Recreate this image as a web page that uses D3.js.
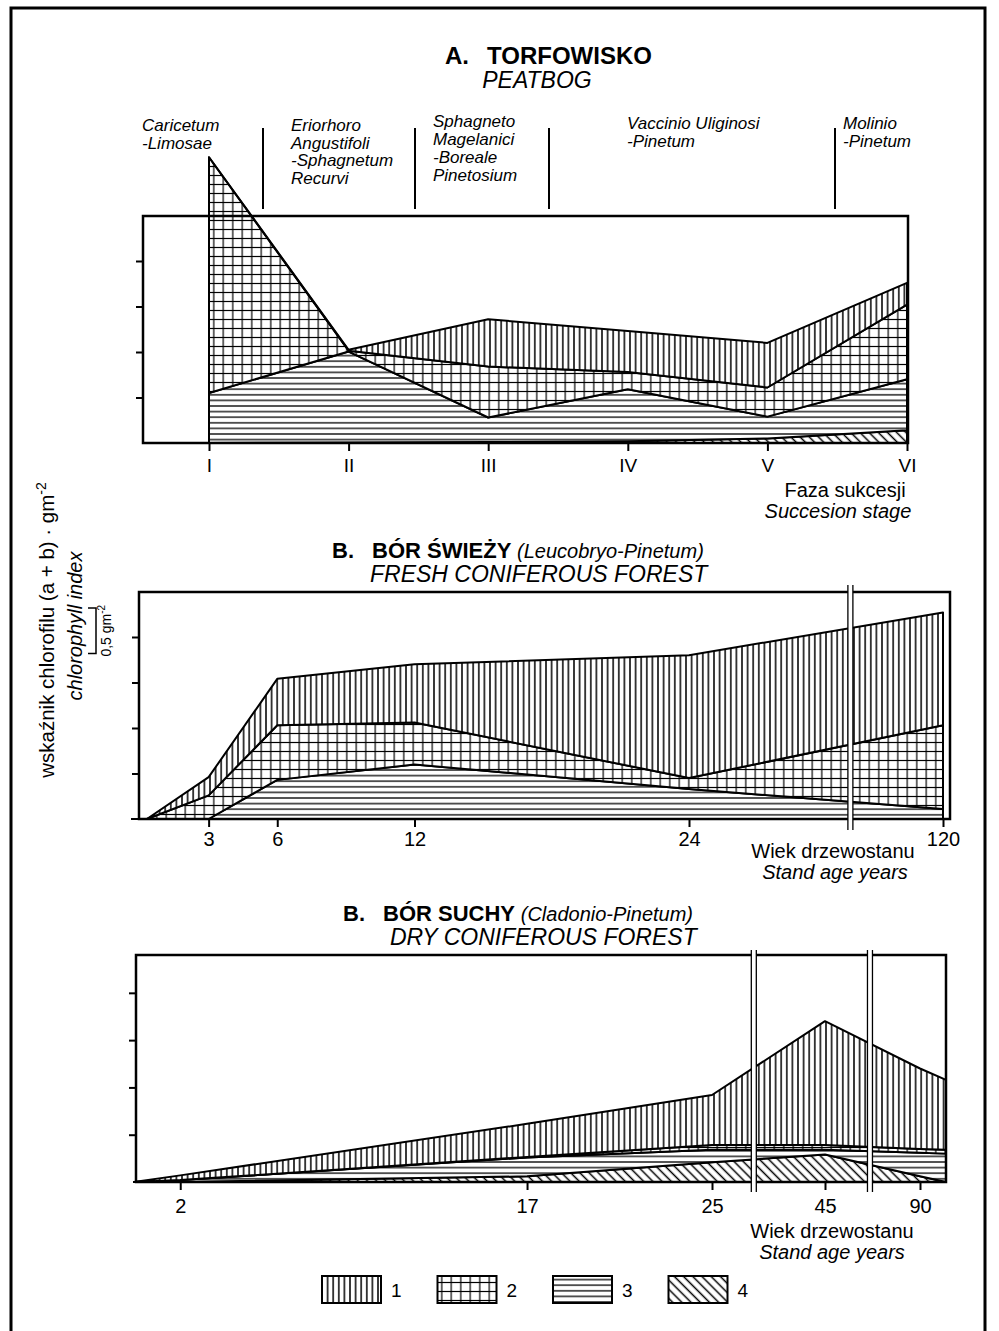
<!DOCTYPE html>
<html><head><meta charset="utf-8">
<script src="https://cdn.jsdelivr.net/npm/d3@7"></script>
<style>
body{margin:0;background:#fff}
svg text{font-family:"Liberation Sans",Arial,sans-serif;fill:#000}
</style>
</head><body>
<svg id="chart" width="999" height="1331"></svg>
<script>
// ---------------- DATA ----------------
// Panel A – peatbog, succession stages
const stagesA = ["I","II","III","IV","V","VI"];
const peat1 = [0, 0.01, 0.52, 0.45, 0.49, 0.24];
const peat2 = [2.59, 0.01, 0.56, 0.19, 0.32, 0.82];
const peat3 = [0.55, 1.0, 0.27, 0.57, 0.24, 0.56];
const peat4 = [0, 0.005, 0.01, 0.02, 0.05, 0.14];

// Panel B – fresh coniferous forest (stand age, years)
const freshAges = [0.3, 3, 6, 12, 24, 120];
const freshTicks = [3, 6, 12, 24, 120];
const fresh1 = [0, 0.20, 0.51, 0.64, 1.35, 1.24];
const fresh2 = [0, 0.26, 0.60, 0.46, 0.12, 0.92];
const fresh3 = [0, 0, 0.43, 0.60, 0.33, 0.11];
const fresh4 = [0, 0, 0, 0, 0, 0];
const freshBreaks = [85];

// Panel C – dry coniferous forest (stand age, years)
const dryAges = [0, 2, 17, 25, 45, 90, 100];
const dryTicks = [2, 17, 25, 45, 90];
const dry1 = [0, 0.05, 0.35, 0.53, 1.31, 0.85, 0.74];
const dry2 = [0, 0, 0.005, 0.05, 0.05, 0.04, 0.04];
const dry3 = [0, 0.02, 0.20, 0.13, 0.05, 0.25, 0.30];
const dry4 = [0, 0, 0.06, 0.21, 0.29, 0.06, 0];
const dryBreaks = [32.4, 66.3];

const yTicks = [0.5, 1, 1.5, 2];
const legendLabels = ["1", "2", "3", "4"];
const associations = [
  ["Caricetum", "-Limosae"],
  ["Eriorhoro", "Angustifoli", "-Sphagnetum", "Recurvi"],
  ["Sphagneto", "Magelanici", "-Boreale", "Pinetosium"],
  ["Vaccinio Uliginosi", "-Pinetum"],
  ["Molinio", "-Pinetum"]
];

// ---------------- LAYOUT ----------------
const assocLayout = [
  {x:142, y:131, lh:17.5}, {x:291, y:131, lh:17.5}, {x:433, y:127, lh:18},
  {x:627, y:129, lh:17.5}, {x:843, y:129, lh:17.5}
];
const dividerX = [263, 415, 549, 835];

const svg = d3.select("#chart");
svg.append("rect").attr("width",999).attr("height",1331).attr("fill","#fff");

// patterns
const defs = svg.append("defs");
function pat(id, w, h, draw, transform){
  const p = defs.append("pattern").attr("id",id).attr("patternUnits","userSpaceOnUse")
    .attr("width",w).attr("height",h);
  if (transform) p.attr("patternTransform", transform);
  p.append("rect").attr("width",w).attr("height",h).attr("fill","#fff");
  draw(p);
}
pat("p1", 5.6, 10, p => p.append("line").attr("x1",2.8).attr("x2",2.8).attr("y1",0).attr("y2",10).attr("stroke","#000").attr("stroke-width",1.5));
pat("p2", 9.5, 9, p => {
  p.append("line").attr("x1",4.75).attr("x2",4.75).attr("y1",0).attr("y2",9).attr("stroke","#000").attr("stroke-width",1.2);
  p.append("line").attr("x1",0).attr("x2",9.5).attr("y1",4.5).attr("y2",4.5).attr("stroke","#000").attr("stroke-width",1.2);
});
pat("p3", 10, 5.6, p => p.append("line").attr("x1",0).attr("x2",10).attr("y1",2.8).attr("y2",2.8).attr("stroke","#000").attr("stroke-width",1.3));
pat("p4", 6.5, 10, p => p.append("line").attr("x1",3.25).attr("x2",3.25).attr("y1",0).attr("y2",10).attr("stroke","#000").attr("stroke-width",1.5), "rotate(-45)");

const keys = ["l4","l3","l2","l1"];
const patOf = {l1:"url(#p1)", l2:"url(#p2)", l3:"url(#p3)", l4:"url(#p4)"};

function rows(xs, a1, a2, a3, a4){
  return xs.map((x,i)=>({x, l1:a1[i], l2:a2[i], l3:a3[i], l4:a4[i]}));
}

function drawLayers(g, data, x, y){
  const series = d3.stack().keys(keys)(data);
  const area = d3.area().x(d=>x(d.data.x)).y0(d=>y(d[0])).y1(d=>y(d[1]));
  g.selectAll("path.layer").data(series).join("path").attr("class","layer")
    .attr("d", area).attr("fill", s=>patOf[s.key])
    .attr("stroke","#000").attr("stroke-width",2).attr("stroke-linejoin","round");
}

function drawBox(g, x0, x1, yTop, yBot){
  g.append("rect").attr("x",x0).attr("y",yTop).attr("width",x1-x0).attr("height",yBot-yTop)
    .attr("fill","none").attr("stroke","#000").attr("stroke-width",2.5);
}

function yAxis(g, x0, y){
  const ax = g.append("g").attr("transform",`translate(${x0},0)`)
    .call(d3.axisLeft(y).tickValues(yTicks).tickSize(7).tickFormat(""));
  ax.select(".domain").remove();
  ax.selectAll("line").attr("stroke-width",2);
}

function xAxis(g, yBase, x, ticks, pad, fs){
  const ax = g.append("g").attr("transform",`translate(0,${yBase})`)
    .call(d3.axisBottom(x).tickValues(ticks).tickSize(8).tickPadding(pad));
  ax.select(".domain").remove();
  ax.selectAll("line").attr("stroke-width",2);
  ax.selectAll("text").attr("font-size",fs).attr("font-family",null);
}

function breakLine(g, xp, y1, y2){
  g.append("rect").attr("x",xp-2.5).attr("y",y1).attr("width",5).attr("height",y2-y1).attr("fill","#fff");
  [xp-2.5, xp+2.5].forEach(v=>g.append("line").attr("x1",v).attr("x2",v).attr("y1",y1).attr("y2",y2)
    .attr("stroke","#000").attr("stroke-width",1.3));
}

function label(g, x, y, str, o={}){
  const t = g.append("text").attr("x",x).attr("y",y).text(str)
    .attr("font-size",o.fs||20);
  if (o.italic) t.attr("font-style","italic");
  if (o.bold) t.attr("font-weight","bold");
  if (o.anchor) t.attr("text-anchor",o.anchor);
  return t;
}

// outer border
svg.append("path").attr("d","M11,1331V8H985V1331").attr("fill","none").attr("stroke","#000").attr("stroke-width",3);

// ---------------- PANEL A ----------------
const gA = svg.append("g");
const xA = d3.scalePoint().domain(stagesA).range([209, 907]);
const yA = d3.scaleLinear().domain([0, 2.5]).range([443, 215.5]);
{
  label(gA, 445, 64, "A.", {fs:24, bold:true});
  label(gA, 487, 64, "TORFOWISKO", {fs:24, bold:true});
  label(gA, 537, 88, "PEATBOG", {fs:23, italic:true, anchor:"middle"});
  associations.forEach((lines,i)=>{
    const L = assocLayout[i];
    lines.forEach((s,j)=>label(gA, L.x, L.y + j*L.lh, s, {fs:17, italic:true}));
  });
  dividerX.forEach(v=>gA.append("line").attr("x1",v).attr("x2",v).attr("y1",128).attr("y2",209)
    .attr("stroke","#000").attr("stroke-width",2));
  drawLayers(gA, rows(stagesA, peat1, peat2, peat3, peat4), xA, yA);
  drawBox(gA, 143, 908, 216, 443);
  yAxis(gA, 143, yA);
  xAxis(gA, 443, xA, stagesA, 8, 19);
  label(gA, 845, 497, "Faza sukcesji", {fs:20, anchor:"middle"});
  label(gA, 838, 518, "Succesion stage", {fs:20, italic:true, anchor:"middle"});
}

// ---------------- PANEL B ----------------
const gB = svg.append("g");
const xB = d3.scaleLinear().domain([0, 24, 120]).range([140, 689, 943]);
const yB = d3.scaleLinear().domain([0, 2.5]).range([819, 591.5]);
{
  label(gB, 332, 558, "B.", {fs:22, bold:true});
  const t = gB.append("text").attr("x",372).attr("y",558).attr("font-size",22);
  t.append("tspan").attr("font-weight","bold").text("BÓR ŚWIEŻY ");
  t.append("tspan").attr("font-style","italic").attr("font-size",20).text("(Leucobryo-Pinetum)");
  label(gB, 370, 582, "FRESH CONIFEROUS FOREST", {fs:23, italic:true});
  drawLayers(gB, rows(freshAges, fresh1, fresh2, fresh3, fresh4), xB, yB);
  drawBox(gB, 139, 950, 592, 819);
  gB.append("line").attr("x1",131).attr("x2",139).attr("y1",819).attr("y2",819).attr("stroke","#000").attr("stroke-width",2);
  yAxis(gB, 139, yB);
  xAxis(gB, 819, xB, freshTicks, 5, 20);
  freshBreaks.forEach(a=>breakLine(gB, xB(a), 585, 830));
  label(gB, 833, 858, "Wiek drzewostanu", {fs:20, anchor:"middle"});
  label(gB, 835, 879, "Stand age years", {fs:20, italic:true, anchor:"middle"});
}

// ---------------- PANEL C ----------------
const gC = svg.append("g");
const xC = d3.scaleLinear().domain([0, 25, 45, 90, 100]).range([134, 712, 825, 920, 946]);
const yC = d3.scaleLinear().domain([0, 2.4]).range([1182, 955]);
{
  label(gC, 343, 921, "B.", {fs:22, bold:true});
  const t = gC.append("text").attr("x",383).attr("y",921).attr("font-size",22);
  t.append("tspan").attr("font-weight","bold").text("BÓR SUCHY ");
  t.append("tspan").attr("font-style","italic").attr("font-size",20).text("(Cladonio-Pinetum)");
  label(gC, 390, 945, "DRY CONIFEROUS FOREST", {fs:23, italic:true});
  drawLayers(gC, rows(dryAges, dry1, dry2, dry3, dry4), xC, yC);
  drawBox(gC, 136, 946, 955, 1182);
  yAxis(gC, 136, yC);
  xAxis(gC, 1182, xC, dryTicks, 9, 20);
  dryBreaks.forEach(a=>breakLine(gC, xC(a), 950, 1192));
  label(gC, 832, 1238, "Wiek drzewostanu", {fs:20, anchor:"middle"});
  label(gC, 832, 1259, "Stand age years", {fs:20, italic:true, anchor:"middle"});
}

// ---------------- Y LABEL & SCALE BAR ----------------
{
  const g1 = svg.append("g").attr("transform","translate(54,630) rotate(-90)");
  const t = g1.append("text").attr("text-anchor","middle").attr("font-size",20.5);
  t.append("tspan").text("wskaźnik chlorofilu (a + b) · gm");
  t.append("tspan").attr("font-size",14).attr("dy",-8).text("-2");
  svg.append("g").attr("transform","translate(82,626) rotate(-90)")
    .append("text").attr("text-anchor","middle").attr("font-size",20).attr("font-style","italic")
    .text("chlorophyll index");
  const h = yB(0) - yB(0.5);
  svg.append("path").attr("d",`M88,608H96V${608+h}H88`).attr("fill","none").attr("stroke","#000").attr("stroke-width",1.5);
  const g3 = svg.append("g").attr("transform",`translate(111,${608+h/2}) rotate(-90)`);
  const t3 = g3.append("text").attr("text-anchor","middle").attr("font-size",14);
  t3.append("tspan").text("0,5 gm");
  t3.append("tspan").attr("font-size",10).attr("dy",-6).text("-2");
}

// ---------------- LEGEND ----------------
{
  const g = svg.append("g");
  legendLabels.forEach((s,i)=>{
    const x0 = 322 + i*115.5;
    g.append("rect").attr("x",x0).attr("y",1276).attr("width",59).attr("height",27)
      .attr("fill",patOf[keys[3-i]]).attr("stroke","#000").attr("stroke-width",2);
    label(g, x0+69, 1297, s, {fs:19});
  });
}
</script>
</body></html>
